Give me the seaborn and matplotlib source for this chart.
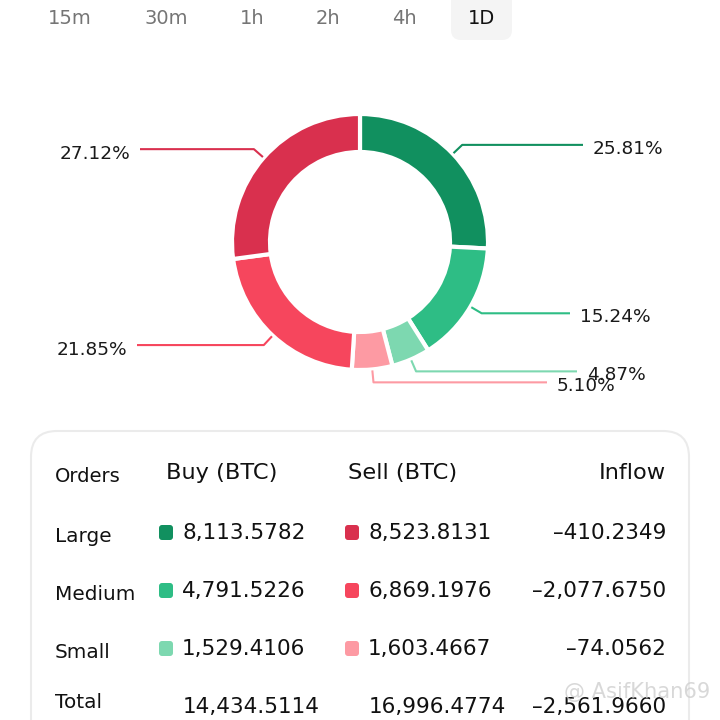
import numpy as np
import matplotlib
matplotlib.use("Agg")
import matplotlib.pyplot as plt
from matplotlib.patches import FancyBboxPatch
import seaborn as sns

# Order-flow data (BTC), 1D window
tabs = ["15m", "30m", "1h", "2h", "4h", "1D"]
active_tab = "1D"
orders = ["Large", "Medium", "Small"]
buy = [8113.5782, 4791.5226, 1529.4106]
sell = [8523.8131, 6869.1976, 1603.4667]
inflow = [-410.2349, -2077.6750, -74.0562]
total_buy = 14434.5114
total_sell = 16996.4774
total_inflow = -2561.9660
buy_colors = ["#11905f", "#2ebd85", "#7dd8b0"]
sell_colors = ["#d9304e", "#f6465d", "#fd9aa3"]

sns.set_theme(style="white")
plt.rcParams["font.family"] = ["DejaVu Sans"]

W = H = 720
fig = plt.figure(figsize=(7.2, 7.2), dpi=100)
ax = fig.add_axes([0, 0, 1, 1])


def py(y):
    # pixel-from-top to axes y
    return H - y


def fs(px):
    return px * 72 / 100


def num(v):
    return f"{v:,.4f}".replace("-", "\u2013")


# ---- time tabs ----
tab_x = [70, 166, 252, 328, 404, 482]
for t, x in zip(tabs, tab_x):
    if t == active_tab:
        ax.add_patch(FancyBboxPatch((451, py(40)), 61, 55,
                                    boxstyle="round,pad=0,rounding_size=10",
                                    fc="#f4f4f4", ec="none", zorder=0))
        col = "#111111"
    else:
        col = "#757575"
    ax.text(x, py(18), t, ha="center", va="center", fontsize=fs(19.5), color=col)

# ---- donut ----
values = [buy[0], buy[1], buy[2], sell[2], sell[1], sell[0]]
colors = [buy_colors[0], buy_colors[1], buy_colors[2],
          sell_colors[2], sell_colors[1], sell_colors[0]]
cx, cy, R = 360, py(242), 128
wedges, _ = ax.pie(values, colors=colors, startangle=90, counterclock=False,
                   center=(cx, cy), radius=R, frame=True,
                   wedgeprops=dict(width=38, edgecolor="white", linewidth=3))
ax.set_xlim(0, W)
ax.set_ylim(0, H)
ax.set_aspect("equal")
ax.axis("off")

tot = sum(values)
label_x_end = [583, 570, 577, 547, 137, 140]
for w, v, c, xe in zip(wedges, values, colors, label_x_end):
    mid = np.deg2rad((w.theta1 + w.theta2) / 2)
    x0, y0 = cx + (R + 1) * np.cos(mid), cy + (R + 1) * np.sin(mid)
    x1, y1 = cx + (R + 13) * np.cos(mid), cy + (R + 13) * np.sin(mid)
    ax.plot([x0, x1, xe], [y0, y1, y1], color=c, lw=1.5,
            solid_capstyle="butt", zorder=1)
    txt = f"{v / tot * 100:.2f}%"
    if xe > cx:
        ax.text(xe + 10, y1 - 4, txt, ha="left", va="center",
                fontsize=fs(18.5), color="#1a1a1a")
    else:
        ax.text(xe - 10, y1 - 5, txt, ha="right", va="center",
                fontsize=fs(18.5), color="#1a1a1a")

# ---- table card ----
ax.add_patch(FancyBboxPatch((31, py(780)), 658, 349,
                            boxstyle="round,pad=0,rounding_size=26",
                            fc="white", ec="#ebebeb", lw=1.5, zorder=0))

ax.text(55, py(477), "Orders", ha="left", va="center", fontsize=fs(19.5), color="#111111")
ax.text(166, py(473), "Buy (BTC)", ha="left", va="center", fontsize=fs(22.5), color="#111111")
ax.text(348, py(473), "Sell (BTC)", ha="left", va="center", fontsize=fs(22.5), color="#111111")
ax.text(666, py(473), "Inflow", ha="right", va="center", fontsize=fs(22.5), color="#111111")

row_y = [533, 591, 649]
for name, b, s, f, bc, sc, y in zip(orders, buy, sell, inflow,
                                    buy_colors, sell_colors, row_y):
    ax.text(55, py(y + 4), name, ha="left", va="center", fontsize=fs(20), color="#111111")
    ax.add_patch(FancyBboxPatch((159, py(y + 7)), 14, 15,
                                boxstyle="round,pad=0,rounding_size=3",
                                fc=bc, ec="none"))
    ax.text(182, py(y), num(b), ha="left", va="center", fontsize=fs(21.5), color="#111111")
    ax.add_patch(FancyBboxPatch((345, py(y + 7)), 14, 15,
                                boxstyle="round,pad=0,rounding_size=3",
                                fc=sc, ec="none"))
    ax.text(368, py(y), num(s), ha="left", va="center", fontsize=fs(21.5), color="#111111")
    ax.text(666, py(y), num(f), ha="right", va="center", fontsize=fs(21.5), color="#111111")

ax.text(55, py(702), "Total", ha="left", va="center", fontsize=fs(20), color="#111111")
ax.text(183, py(707), num(total_buy), ha="left", va="center", fontsize=fs(21.5), color="#111111")
ax.text(369, py(707), num(total_sell), ha="left", va="center", fontsize=fs(21.5), color="#111111")
ax.text(666, py(707), num(total_inflow), ha="right", va="center", fontsize=fs(21.5), color="#111111")

# watermark
ax.text(710, py(692), "@ AsifKhan69", ha="right", va="center", fontsize=fs(21),
        color="#cfcfcf", alpha=0.8, zorder=5)

fig.savefig("out.png", dpi=100)
